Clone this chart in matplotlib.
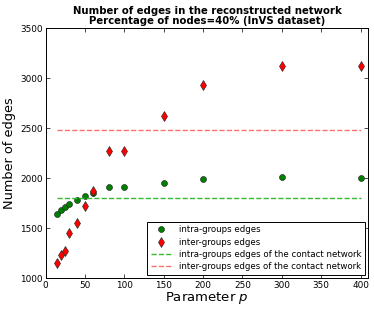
import matplotlib
matplotlib.use("Agg")
import matplotlib.pyplot as plt

# parameter p values
p_values = [15, 20, 25, 30, 40, 50, 60, 80, 100, 150, 200, 300, 400]
intra_edges = [1643, 1683, 1710, 1743, 1780, 1827, 1853, 1910, 1913, 1957, 1990, 2010, 2003]
inter_edges = [1157, 1230, 1273, 1457, 1550, 1723, 1877, 2273, 2273, 2620, 2937, 3120, 3120]

# reference values from the contact network
intra_contact = 1800
inter_contact = 2480

fig = plt.figure(figsize=(3.74, 3.12), dpi=100)
ax = fig.add_axes([0.122, 0.108, 0.863, 0.801])

ax.plot(p_values, intra_edges, 'o', color='green', markersize=4.3,
        markeredgecolor='#1a1a1a', markeredgewidth=0.4, label='intra-groups edges')
ax.plot(p_values, inter_edges, 'd', color='red', markersize=5.5,
        markeredgecolor='#1a1a1a', markeredgewidth=0.4, label='inter-groups edges')
ax.plot([p_values[0], p_values[-1]], [intra_contact, intra_contact], '--',
        color='#33bb33', linewidth=1, label='intra-groups edges of the contact network')
ax.plot([p_values[0], p_values[-1]], [inter_contact, inter_contact], '--',
        color='#ff7070', linewidth=1, label='inter-groups edges of the contact network')

ax.set_xlim(0, 410)
ax.set_ylim(1000, 3500)
ax.set_xticks(range(0, 401, 50))
ax.set_yticks(range(1000, 3501, 500))
ax.tick_params(direction='in', top=True, right=True, labelsize=6.4, length=3, width=0.5, pad=2)
for s in ax.spines.values():
    s.set_linewidth(0.7)

ax.set_xlabel("Parameter $p$", fontsize=9.5, labelpad=0)
ax.set_ylabel("Number of edges", fontsize=9.3, labelpad=3)
ax.set_title("Number of edges in the reconstructed network\nPercentage of nodes=40% (InVS dataset)",
             fontsize=7.3, fontweight='bold', linespacing=1.05, pad=3)

leg = ax.legend(loc='lower right', fontsize=6.2, numpoints=1, fancybox=False,
                framealpha=1, borderpad=0.4, handlelength=2.5, labelspacing=0.4,
                borderaxespad=0.4)
leg.get_frame().set_edgecolor('black')
leg.get_frame().set_linewidth(0.7)

fig.savefig("out.png", dpi=100)
